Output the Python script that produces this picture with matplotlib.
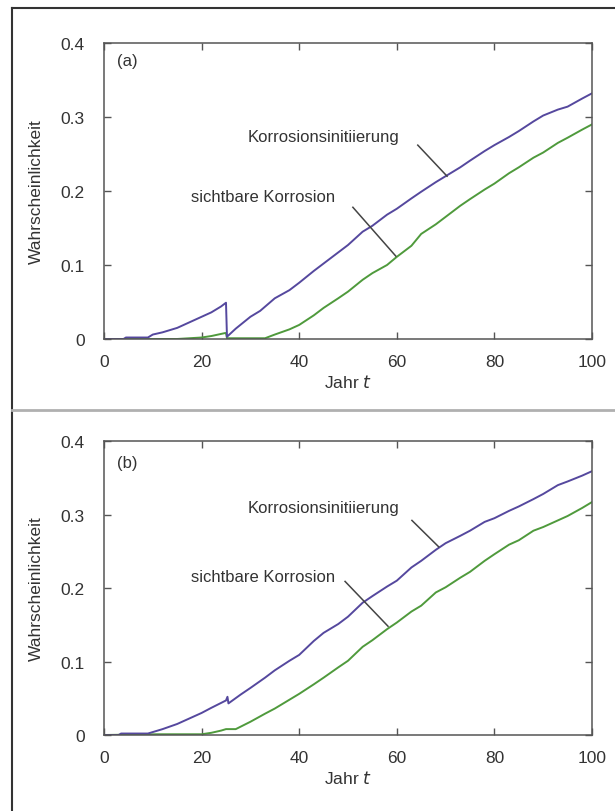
import matplotlib
matplotlib.use("Agg")
import matplotlib.pyplot as plt
from matplotlib.lines import Line2D

plt.rcParams["font.family"] = ["Liberation Sans", "DejaVu Sans"]

# Panel (a) values
years_a_init = [0, 4, 4.5, 9, 10, 12, 15, 18, 20, 22, 24, 25, 25.2, 27, 30, 32, 35, 38, 40, 43, 45, 48, 50,
                53, 55, 58, 60, 63, 65, 68, 70, 73, 75, 78, 80, 83, 85, 88, 90, 93, 95, 98, 100]
init_a = [0, 0, 0.002, 0.002, 0.006, 0.009, 0.015, 0.024, 0.030, 0.036, 0.044, 0.049, 0.003, 0.014, 0.030,
          0.038, 0.055, 0.066, 0.076, 0.092, 0.102, 0.117, 0.127, 0.145, 0.153, 0.168, 0.176, 0.190, 0.199,
          0.212, 0.220, 0.232, 0.241, 0.254, 0.262, 0.273, 0.281, 0.294, 0.302, 0.310, 0.314, 0.325, 0.332]

years_a_vis = [0, 15, 20, 22, 24.8, 25, 25.2, 30, 33, 35, 38, 40, 43, 45, 48, 50, 53, 55, 58, 60, 63, 65,
               68, 70, 73, 75, 78, 80, 83, 85, 88, 90, 93, 95, 98, 100]
vis_a = [0, 0, 0.002, 0.004, 0.008, 0.008, 0.001, 0.001, 0.001, 0.006, 0.013, 0.019, 0.032, 0.042, 0.055,
         0.064, 0.080, 0.089, 0.100, 0.111, 0.126, 0.142, 0.155, 0.165, 0.180, 0.189, 0.202, 0.210, 0.224,
         0.232, 0.245, 0.252, 0.265, 0.272, 0.283, 0.290]

# Panel (b) values
years_b_init = [0, 3, 3.5, 9, 10, 12, 15, 18, 20, 22, 25, 25.3, 25.5, 28, 30, 33, 35, 38, 40, 43, 45, 48,
                50, 53, 55, 58, 60, 63, 65, 68, 70, 73, 75, 78, 80, 83, 85, 88, 90, 93, 95, 98, 100]
init_b = [0, 0, 0.002, 0.002, 0.004, 0.008, 0.015, 0.024, 0.030, 0.037, 0.047, 0.052, 0.043, 0.055, 0.064,
          0.078, 0.088, 0.101, 0.109, 0.128, 0.139, 0.151, 0.161, 0.180, 0.189, 0.202, 0.210, 0.228, 0.237,
          0.252, 0.261, 0.271, 0.278, 0.290, 0.295, 0.305, 0.311, 0.321, 0.328, 0.340, 0.345, 0.353, 0.359]

years_b_vis = [0, 11, 20, 22, 24, 25, 27, 30, 33, 35, 38, 40, 43, 45, 48, 50, 53, 55, 58, 60, 63, 65, 68,
               70, 73, 75, 78, 80, 83, 85, 88, 90, 93, 95, 98, 100]
vis_b = [0, 0.001, 0.001, 0.003, 0.006, 0.008, 0.008, 0.018, 0.029, 0.036, 0.048, 0.056, 0.069, 0.078,
         0.092, 0.101, 0.120, 0.129, 0.144, 0.153, 0.168, 0.176, 0.194, 0.201, 0.214, 0.222, 0.237, 0.246,
         0.259, 0.265, 0.278, 0.283, 0.292, 0.298, 0.309, 0.317]

x_ticks = [0, 20, 40, 60, 80, 100]
y_ticks = [0, 0.1, 0.2, 0.3, 0.4]
y_tick_labels = ["0", "0.1", "0.2", "0.3", "0.4"]

blue = "#55489e"
green = "#4f9a3c"
dark = "#333333"

fig = plt.figure(figsize=(6.15, 8.12), dpi=100)

panels = [
    dict(pos=[0.1691, 0.5813, 0.7935, 0.3645], tag="(a)",
         xi=years_a_init, yi=init_a, xv=years_a_vis, yv=vis_a,
         init_txt=(44.9, 0.274), init_line=((64.3, 0.262), (70.3, 0.220)),
         vis_txt=(32.6, 0.193), vis_line=((51.0, 0.178), (59.8, 0.112)), tag_y=0.376),
    dict(pos=[0.1691, 0.0936, 0.7935, 0.3620], tag="(b)",
         xi=years_b_init, yi=init_b, xv=years_b_vis, yv=vis_b,
         init_txt=(44.9, 0.310), init_line=((63.1, 0.292), (68.6, 0.256)),
         vis_txt=(32.6, 0.216), vis_line=((49.4, 0.209), (58.2, 0.148)), tag_y=0.371),
]

for p in panels:
    ax = fig.add_axes(p["pos"])
    ax.plot(p["xv"], p["yv"], color=green, lw=1.4)
    ax.plot(p["xi"], p["yi"], color=blue, lw=1.4)
    ax.set_xlim(0, 100)
    ax.set_ylim(0, 0.4)
    ax.set_xticks(x_ticks)
    ax.set_yticks(y_ticks)
    ax.set_yticklabels(y_tick_labels)
    ax.tick_params(direction="in", top=True, right=True, length=5, width=1,
                   color="#555555", labelsize=12.5, labelcolor=dark)
    ax.tick_params(axis="x", pad=11)
    ax.tick_params(axis="y", pad=14)
    for s in ax.spines.values():
        s.set_color("#555555")
        s.set_linewidth(1.1)
    ax.set_xlabel("Jahr $t$", fontsize=12.5, color=dark, labelpad=3)
    ax.set_ylabel("Wahrscheinlichkeit", fontsize=12.5, color=dark, labelpad=12)

    ax.text(4.8, p["tag_y"], p["tag"], fontsize=12, color=dark, ha="center", va="center")
    ax.text(*p["init_txt"], "Korrosionsinitiierung", fontsize=12, color=dark, ha="center", va="center")
    ax.text(*p["vis_txt"], "sichtbare Korrosion", fontsize=12, color=dark, ha="center", va="center")
    (x0, y0), (x1, y1) = p["init_line"]
    ax.plot([x0, x1], [y0, y1], color="#444444", lw=1.1)
    (x0, y0), (x1, y1) = p["vis_line"]
    ax.plot([x0, x1], [y0, y1], color="#444444", lw=1.1)

# frame lines around the figure
W, H = 615.0, 812.0
fig.add_artist(Line2D([12 / W, 12 / W], [0, 1 - 9 / H], color="#333333", lw=1.5))
fig.add_artist(Line2D([12 / W, 1], [1 - 9 / H, 1 - 9 / H], color="#333333", lw=1.5))
fig.add_artist(Line2D([12 / W, 1], [1 - 411 / H, 1 - 411 / H], color="#b0b0b0", lw=2))

fig.savefig("out.png", dpi=100)
